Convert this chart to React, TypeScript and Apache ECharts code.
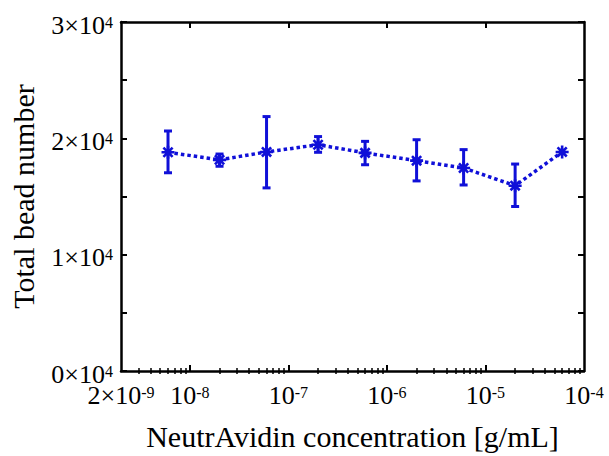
import React, { useEffect, useRef } from "react";
import * as echarts from "echarts";

const concentrations = [6e-9, 2e-8, 6e-8, 2e-7, 6e-7, 2e-6, 6e-6, 2e-5, 6e-5];
const beadMeans = [18800, 18150, 18830, 19450, 18750, 18080, 17450, 15930, 18830];
const errLow = [17040, 17600, 15740, 18800, 17730, 16340, 15990, 14140, 18830];
const errHigh = [20630, 18650, 21870, 20150, 19740, 19880, 19030, 17790, 18830];

const xLabelValues = [2e-9, 1e-8, 1e-7, 1e-6, 1e-5, 1e-4];
const xMajorTicks = [1e-8, 1e-7, 1e-6, 1e-5];
const yLabelValues = [0, 10000, 20000, 30000];

const FONT = "Liberation Serif";
const BLUE = "#1010d8";

function minorTicks(): number[] {
  const out: number[] = [];
  for (let e = -9; e <= -5; e++) {
    for (let m = 2; m <= 9; m++) {
      const v = m * Math.pow(10, e);
      if (v > 2.05e-9 && v < 1e-4) out.push(Number(v.toPrecision(3)));
    }
  }
  return out;
}

function asteriskPath(): string {
  const L = 1;
  const w = 0.2;
  let d = "";
  [0, 45, 90, 135].forEach((deg) => {
    const a = (deg * Math.PI) / 180;
    const dx = Math.cos(a), dy = Math.sin(a);
    const nx = -dy, ny = dx;
    const pts = [
      [dx * L + nx * w, dy * L + ny * w],
      [dx * L - nx * w, dy * L - ny * w],
      [-dx * L - nx * w, -dy * L - ny * w],
      [-dx * L + nx * w, -dy * L + ny * w],
    ];
    d += "M" + pts.map((p) => p[0].toFixed(3) + " " + p[1].toFixed(3)).join(" L") + " Z ";
  });
  return "path://" + d;
}

function xLabel(v: number): string {
  const e = Math.round(Math.log10(v));
  const m = v / Math.pow(10, e);
  if (Math.abs(m - 1) < 1e-6) return `{b|10}{s|${e}}`;
  const e2 = Math.floor(Math.log10(v));
  const m2 = Math.round(v / Math.pow(10, e2));
  return `{b|${m2}×10}{s|${e2}}`;
}

const rich = {
  b: { fontFamily: FONT, fontSize: 26, color: "#000", lineHeight: 24, verticalAlign: "bottom" as const },
  s: { fontFamily: FONT, fontSize: 16, color: "#000", lineHeight: 24, verticalAlign: "top" as const },
};

export default function App() {
  const ref = useRef<HTMLDivElement>(null);
  useEffect(() => {
    document.body.style.margin = "0";
    if (!ref.current) return;
    const chart = echarts.init(ref.current, null, { renderer: "svg" });
    const minors = minorTicks();
    const axisLine = { show: true, onZero: false, lineStyle: { color: "#000", width: 2.5 } };
    const xBase = { type: "log" as const, logBase: 10, min: 2e-9, max: 1e-4, splitLine: { show: false } };
    const yBase = { type: "value" as const, min: 0, max: 30000, interval: 5000, splitLine: { show: false } };
    chart.setOption({
      animation: false,
      backgroundColor: "#fff",
      textStyle: { fontFamily: FONT },
      grid: { left: 117, right: 25, top: 22, bottom: 72, containLabel: false },
      xAxis: [
        {
          ...xBase,
          position: "bottom",
          axisLine,
          axisTick: { show: true, inside: true, length: 6, customValues: xMajorTicks, lineStyle: { color: "#000", width: 2 } },
          axisLabel: {
            show: true,
            customValues: xLabelValues,
            margin: 13,
            fontFamily: FONT,
            fontSize: 26,
            color: "#000",
            formatter: (v: number) => xLabel(v),
            rich,
          },
          name: "NeutrAvidin concentration [g/mL]",
          nameLocation: "middle",
          nameGap: 50,
          nameTextStyle: { fontFamily: FONT, fontSize: 30, color: "#000" },
        },
        {
          ...xBase,
          position: "bottom",
          axisLine: { show: false },
          axisTick: { show: true, inside: true, length: 3, customValues: minors, lineStyle: { color: "#000", width: 1.5 } },
          axisLabel: { show: false },
        },
        {
          ...xBase,
          position: "top",
          axisLine,
          axisTick: { show: true, inside: true, length: 6, customValues: xMajorTicks, lineStyle: { color: "#000", width: 2 } },
          axisLabel: { show: false },
        },
        {
          ...xBase,
          position: "top",
          axisLine: { show: false },
          axisTick: { show: true, inside: true, length: 3, customValues: minors, lineStyle: { color: "#000", width: 1.5 } },
          axisLabel: { show: false },
        },
      ],
      yAxis: [
        {
          ...yBase,
          position: "left",
          axisLine,
          axisTick: { show: true, inside: true, length: 6, lineStyle: { color: "#000", width: 2 } },
          axisLabel: {
            show: true,
            customValues: yLabelValues,
            margin: 8,
            padding: [8, 0, 0, 0],
            fontFamily: FONT,
            fontSize: 26,
            color: "#000",
            formatter: (v: number) => `{b|${Math.round(v / 10000)}×10}{s|4}`,
            rich,
          },
          name: "Total bead number",
          nameLocation: "middle",
          nameGap: 83,
          nameTextStyle: { fontFamily: FONT, fontSize: 30, color: "#000" },
        },
        {
          ...yBase,
          position: "right",
          axisLine,
          axisTick: { show: true, inside: true, length: 6, lineStyle: { color: "#000", width: 2 } },
          axisLabel: { show: false },
        },
      ],
      series: [
        {
          type: "custom",
          xAxisIndex: 0,
          yAxisIndex: 0,
          data: concentrations.map((c, i) => [c, errLow[i], errHigh[i]]),
          renderItem: (params: any, api: any) => {
            const x = api.value(0);
            const lo = api.coord([x, api.value(1)]);
            const hi = api.coord([x, api.value(2)]);
            if (Math.abs(lo[1] - hi[1]) < 1) return { type: "group", children: [] };
            const cap = 4;
            const style = { stroke: BLUE, lineWidth: 3 };
            return {
              type: "group",
              children: [
                { type: "line", shape: { x1: lo[0], y1: lo[1], x2: hi[0], y2: hi[1] }, style },
                { type: "line", shape: { x1: lo[0] - cap, y1: lo[1], x2: lo[0] + cap, y2: lo[1] }, style },
                { type: "line", shape: { x1: hi[0] - cap, y1: hi[1], x2: hi[0] + cap, y2: hi[1] }, style },
              ],
            };
          },
          z: 2,
        },
        {
          type: "line",
          xAxisIndex: 0,
          yAxisIndex: 0,
          data: concentrations.map((c, i) => [c, beadMeans[i]]),
          lineStyle: { color: BLUE, width: 3.5, type: [3.5, 3] },
          symbol: asteriskPath(),
          symbolSize: 13,
          itemStyle: { color: BLUE },
          z: 3,
        },
      ],
    });
    return () => chart.dispose();
  }, []);
  return <div ref={ref} style={{ width: 609, height: 456, background: "#fff" }} />;
}
